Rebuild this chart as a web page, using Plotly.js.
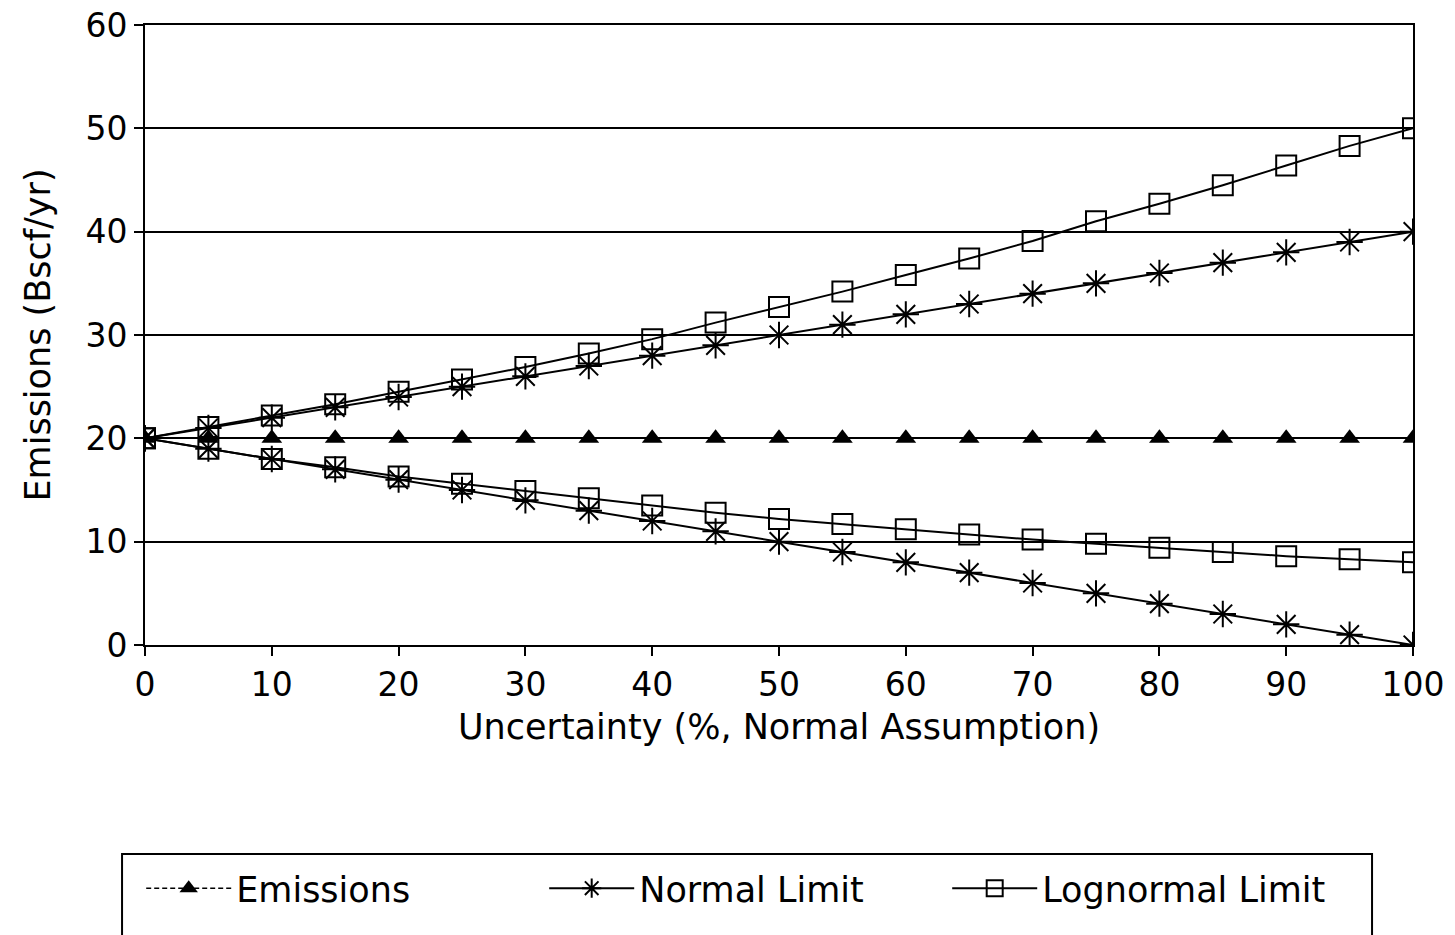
<!DOCTYPE html>
<html>
<head>
<meta charset="utf-8">
<script src="https://cdn.plot.ly/plotly-3.0.1.min.js"></script>
<style>html,body{margin:0;padding:0;background:#fff;}#chart{width:1455px;height:935px;}</style>
</head>
<body>
<div id="chart"></div>
<script>
const uncertainty = [0,5,10,15,20,25,30,35,40,45,50,55,60,65,70,75,80,85,90,95,100];
const emissions = [20,20,20,20,20,20,20,20,20,20,20,20,20,20,20,20,20,20,20,20,20];
const normalUpper = [20,21,22,23,24,25,26,27,28,29,30,31,32,33,34,35,36,37,38,39,40];
const normalLower = [20,19,18,17,16,15,14,13,12,11,10,9,8,7,6,5,4,3,2,1,0];
const lognormalUpper = [20,21.1,22.2,23.3,24.5,25.7,26.9,28.2,29.6,31.2,32.7,34.2,35.8,37.4,39.1,41.0,42.7,44.5,46.4,48.3,50];
const lognormalLower = [20,19.0,18.0,17.2,16.3,15.6,14.9,14.2,13.5,12.8,12.2,11.7,11.2,10.7,10.2,9.8,9.4,9.0,8.6,8.3,8.0];
const xTicks = [0,10,20,30,40,50,60,70,80,90,100];
const yTicks = [0,10,20,30,40,50,60];

const font = {family: 'DejaVu Sans, Liberation Sans, Arial, sans-serif', color: '#000'};
const lw = 2;
const traces = [
  {x: uncertainty, y: emissions, name: 'Emissions', mode: 'lines+markers',
   line: {color: '#000', width: 1.5, dash: '5px,3px'},
   marker: {symbol: 'triangle-up', size: 18, color: '#000'}},
  {x: uncertainty, y: normalUpper, name: 'Normal Limit', mode: 'lines+markers', legendgroup: 'n',
   line: {color: '#000', width: lw},
   marker: {symbol: 'asterisk-open', size: 22, color: '#000', line: {color: '#000', width: 2}}},
  {x: uncertainty, y: lognormalUpper, name: 'Lognormal Limit', mode: 'lines+markers', legendgroup: 'l',
   line: {color: '#000', width: lw},
   marker: {symbol: 'square-open', size: 20, color: '#000', line: {color: '#000', width: 2}}},
  {x: uncertainty, y: normalLower, name: 'Normal Limit', mode: 'lines+markers', legendgroup: 'n', showlegend: false,
   line: {color: '#000', width: lw},
   marker: {symbol: 'asterisk-open', size: 22, color: '#000', line: {color: '#000', width: 2}}},
  {x: uncertainty, y: lognormalLower, name: 'Lognormal Limit', mode: 'lines+markers', legendgroup: 'l', showlegend: false,
   line: {color: '#000', width: lw},
   marker: {symbol: 'square-open', size: 20, color: '#000', line: {color: '#000', width: 2}}}
];

const layout = {
  width: 1455, height: 935,
  margin: {l: 145, r: 42, t: 25, b: 290},
  paper_bgcolor: '#fff', plot_bgcolor: '#fff',
  font: Object.assign({size: 33}, font),
  showlegend: true,
  xaxis: {
    range: [0, 100], tickvals: xTicks, ticktext: xTicks.map(String),
    showgrid: false, zeroline: false,
    showline: true, linecolor: '#000', linewidth: 2, mirror: true,
    ticks: 'outside', ticklen: 9, tickwidth: 2, tickcolor: '#000',
    tickfont: Object.assign({size: 33}, font),
    title: {text: 'Uncertainty (%, Normal Assumption)', font: Object.assign({size: 35}, font), standoff: 12},
    automargin: false
  },
  yaxis: {
    range: [0, 60], tickvals: yTicks, ticktext: yTicks.map(String),
    showgrid: true, gridcolor: '#000', gridwidth: 2, zeroline: false,
    showline: true, linecolor: '#000', linewidth: 2, mirror: true,
    ticks: 'outside', ticklen: 9, tickwidth: 2, tickcolor: '#000',
    tickfont: Object.assign({size: 33}, font),
    title: {text: 'Emissions (Bscf/yr)', font: Object.assign({size: 35}, font), standoff: 24},
    automargin: false
  },
  legend: {
    orientation: 'h', x: -0.003, xanchor: 'left', y: -0.345, yanchor: 'top',
    borderwidth: 0, bgcolor: 'rgba(0,0,0,0)',
    font: Object.assign({size: 35}, font),
    entrywidth: 303, itemwidth: 85, traceorder: 'normal'
  },
  shapes: [
    {type: 'rect', xref: 'paper', yref: 'paper', x0: -0.0181, x1: 0.9677, y0: -0.337, y1: -0.49,
     line: {color: '#000', width: 2}, fillcolor: 'rgba(0,0,0,0)'}
  ]
};

Plotly.newPlot('chart', traces, layout, {displayModeBar: false, staticPlot: true});
</script>
</body>
</html>
